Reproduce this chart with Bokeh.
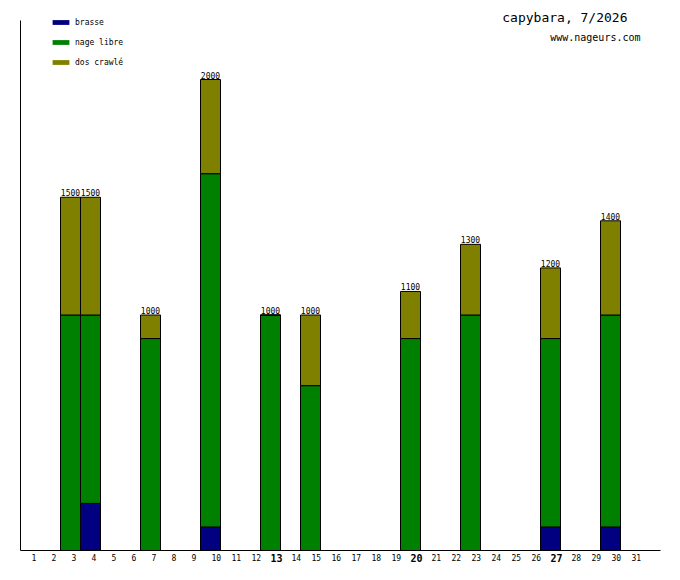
from bokeh.plotting import figure
from bokeh.models import ColumnDataSource, Range1d, Legend, LegendItem, Label
from bokeh.core.properties import value
from bokeh.embed import file_html
from bokeh.resources import INLINE

title_text = "capybara, 7/2026"
site_text = "www.nageurs.com"

days = list(range(1, 32))
bold_days = [13, 20, 27]

strokes = ["brasse", "nage libre", "dos crawlé"]
colors = ["#000080", "#008000", "#808000"]

brasse = [0, 0, 0, 200, 0, 0, 0, 0, 0, 100, 0, 0, 0, 0, 0, 0,
          0, 0, 0, 0, 0, 0, 0, 0, 0, 0, 100, 0, 0, 100, 0]
nage_libre = [0, 0, 1000, 800, 0, 0, 900, 0, 0, 1500, 0, 0, 1000, 0, 700, 0,
              0, 0, 0, 900, 0, 0, 1000, 0, 0, 0, 800, 0, 0, 900, 0]
dos_crawle = [0, 0, 500, 500, 0, 0, 100, 0, 0, 400, 0, 0, 0, 0, 300, 0,
              0, 0, 0, 200, 0, 0, 300, 0, 0, 0, 300, 0, 0, 400, 0]

FONT = "DejaVu Sans Mono"

# keep only active days for the bars
idx = [i for i in range(len(days)) if brasse[i] + nage_libre[i] + dos_crawle[i] > 0]
src = ColumnDataSource(dict(
    day=[days[i] for i in idx],
    brasse=[brasse[i] for i in idx],
    nage=[nage_libre[i] for i in idx],
    dos=[dos_crawle[i] for i in idx],
    total=[brasse[i] + nage_libre[i] + dos_crawle[i] for i in idx],
    label=[str(brasse[i] + nage_libre[i] + dos_crawle[i]) for i in idx],
))

W, H = 664, 564
AXIS_Y = 550          # pixel row of the x axis
TOP_Y = 20            # pixel row of the top of the y axis
U = 2000.0 / (AXIS_Y - 79)   # data units per pixel
y_lo = -(H - AXIS_Y) * U
y_hi = AXIS_Y * U
y_axis_top = (AXIS_Y - TOP_Y) * U

p = figure(width=W, height=H, output_backend="svg", toolbar_location=None,
           x_range=Range1d(-0.5, -0.5 + W / 20.0), y_range=Range1d(y_lo, y_hi),
           min_border=0, outline_line_color=None)
p.axis.visible = False
p.grid.visible = False
p.background_fill_color = "white"
p.border_fill_color = "white"

p.vbar_stack(["brasse", "nage", "dos"], x="day", width=1.0, source=src,
             fill_color=colors, line_color="black", line_width=1)

# axis lines
x0 = min(days) - 0.5
x1 = max(days) + 1.5
p.segment(x0=[x0], y0=[0], x1=[x1], y1=[0], line_color="black", line_width=1)
p.segment(x0=[x0], y0=[0], x1=[x0], y1=[y_axis_top], line_color="black", line_width=1)

# totals above bars
p.text(x="day", y="total", text="label", source=src, text_align="center",
       text_baseline="bottom", y_offset=-1, text_font=value(FONT),
       text_font_size="8px", text_color="black")

# day labels
normal = [d for d in days if d not in bold_days]
p.text(x=normal, y=[0] * len(normal), text=[str(d) for d in normal],
       text_align="left", text_baseline="middle", x_offset=1, y_offset=7,
       text_font=value(FONT), text_font_size="8px", text_color="black")
p.text(x=bold_days, y=[0] * len(bold_days), text=[str(d) for d in bold_days],
       text_align="left", text_baseline="middle", x_offset=0, y_offset=7,
       text_font=value(FONT), text_font_size="10px", text_font_style="bold",
       text_color="black")

# legend swatches (no outline), drawn from invisible zero-height renderers
items = []
for name, c in zip(strokes, colors):
    r = p.vbar(x=[days[0]], top=[0], bottom=[0], width=1, fill_color=c, line_color=None)
    items.append(LegendItem(label=name, renderers=[r]))
legend = Legend(items=items, location=(50, 497), glyph_width=21, glyph_height=6,
                label_height=10, spacing=10, padding=0, margin=0,
                label_standoff=4, label_text_font=FONT, label_text_font_size="8px",
                label_text_color="black",
                border_line_color=None, background_fill_alpha=0)
p.add_layout(legend, "center")

p.add_layout(Label(x=627, y=H - 17, x_units="screen", y_units="screen", text=title_text,
                   text_align="right", text_baseline="middle", text_font=FONT,
                   text_font_size="13px", text_color="black"))
p.add_layout(Label(x=640, y=H - 37, x_units="screen", y_units="screen", text=site_text,
                   text_align="right", text_baseline="middle", text_font=FONT,
                   text_font_size="10px", text_color="black"))

open("out.html", "w").write(file_html(p, INLINE))
